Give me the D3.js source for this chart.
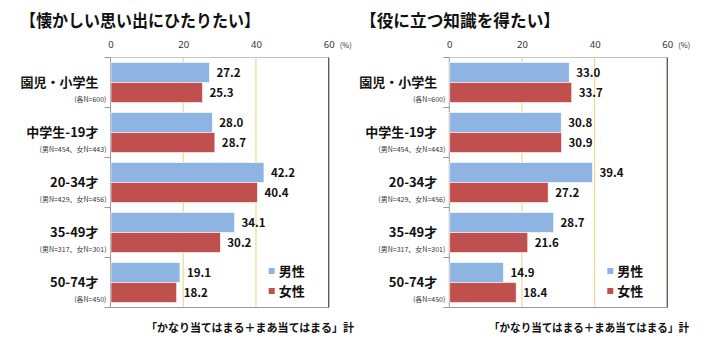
<!DOCTYPE html>
<html>
<head>
<meta charset="utf-8">
<script src="https://cdn.jsdelivr.net/npm/d3@7"></script>
<style>
  body { margin: 0; background: #fff; }
  svg { display: block; font-family: "Noto Sans CJK JP", "Noto Sans", sans-serif; }
</style>
</head>
<body>
<div id="chart"></div>
<script>
// data
const categories = ["園児・小学生", "中学生-19才", "20-34才", "35-49才", "50-74才"];
const sampleNotes = ["(各N=600)", "(男N=454、女N=443)", "(男N=429、女N=456)", "(男N=317、女N=301)", "(各N=450)"];
const genders = ["男性", "女性"];
const xTicks = [0, 20, 40, 60];

const nostalgiaMale = [27.2, 28.0, 42.2, 34.1, 19.1];
const nostalgiaFemale = [25.3, 28.7, 40.4, 30.2, 18.2];
const knowledgeMale = [33.0, 30.8, 39.4, 28.7, 14.9];
const knowledgeFemale = [33.7, 30.9, 27.2, 21.6, 18.4];

const titles = ["【懐かしい思い出にひたりたい】", "【役に立つ知識を得たい】"];
const footer = "「かなり当てはまる＋まあ当てはまる」計";

const colors = { "男性": "#8db4e2", "女性": "#c0504d" };

const width = 710, height = 338;
const top_y = 57.5, bottom_y = 307.5;

const svg = d3.select("#chart").append("svg")
    .attr("width", width)
    .attr("height", height);

function drawPanel(opts) {
    const g = svg.append("g");

    const x = d3.scaleLinear().domain([0, 60]).range([opts.x0, opts.x1]);
    const y = d3.scaleBand().domain(categories).range([top_y, bottom_y]);
    const yg = d3.scaleBand().domain(genders).range([0, y.bandwidth()]).paddingOuter(0.25);

    // title
    g.append("text")
        .attr("x", opts.titleX)
        .attr("y", 27)
        .attr("font-size", 17)
        .attr("font-weight", "bold")
        .attr("fill", "#111")
        .attr("textLength", opts.titleLen)
        .attr("lengthAdjust", "spacingAndGlyphs")
        .text(opts.title);

    // gridlines at 20, 40
    g.selectAll(".grid")
        .data(xTicks.filter(d => d > 0 && d < 60))
        .join("line")
        .attr("x1", d => x(d)).attr("x2", d => x(d))
        .attr("y1", top_y).attr("y2", bottom_y)
        .attr("stroke", "#f3d892")
        .attr("stroke-width", 1.2);

    // frame top + bottom
    g.append("line")
        .attr("x1", x(0)).attr("x2", x(60))
        .attr("y1", top_y).attr("y2", top_y)
        .attr("stroke", "#c4c4c4");
    g.append("line")
        .attr("x1", x(0)).attr("x2", x(60))
        .attr("y1", bottom_y).attr("y2", bottom_y)
        .attr("stroke", "#9a9a9a");
    g.append("line")
        .attr("x1", x(60)).attr("x2", x(60))
        .attr("y1", top_y).attr("y2", bottom_y)
        .attr("stroke", "#5b5340")
        .attr("stroke-width", 1.3);

    // top axis labels
    const xAxis = g.append("g")
        .attr("transform", `translate(0,${top_y})`)
        .call(d3.axisTop(x).tickValues(xTicks).tickSize(0).tickPadding(10));
    xAxis.select(".domain").remove();
    xAxis.selectAll("text")
        .attr("font-family", "\"Noto Sans\", sans-serif")
        .attr("font-size", 9.5)
        .attr("fill", "#333");
    g.append("text")
        .attr("x", x(60) + 11)
        .attr("y", top_y - 10)
        .attr("font-size", 7.5)
        .attr("fill", "#333")
        .text("(%)");

    // left axis with tick marks at category boundaries
    g.append("line")
        .attr("x1", x(0)).attr("x2", x(0))
        .attr("y1", top_y).attr("y2", bottom_y)
        .attr("stroke", "#9a9a9a");
    g.selectAll(".ytick")
        .data(d3.range(categories.length + 1))
        .join("line")
        .attr("x1", x(0) - 6).attr("x2", x(0))
        .attr("y1", i => top_y + i * y.step())
        .attr("y2", i => top_y + i * y.step())
        .attr("stroke", "#9a9a9a");

    // category labels
    g.selectAll(".cat")
        .data(categories)
        .join("text")
        .attr("x", x(0) - 12)
        .attr("y", d => y(d) + y.bandwidth() / 2 + 4.5)
        .attr("text-anchor", "end")
        .attr("font-size", 13)
        .attr("font-weight", "bold")
        .attr("fill", "#111")
        .text(d => d);
    g.selectAll(".note")
        .data(sampleNotes)
        .join("text")
        .attr("x", x(0) - 4)
        .attr("y", (d, i) => y(categories[i]) + y.bandwidth() / 2 + 19.5)
        .attr("text-anchor", "end")
        .attr("font-size", 7)
        .attr("fill", "#333")
        .text(d => d);

    // bars
    const rows = [];
    categories.forEach((c, i) => {
        rows.push({ cat: c, gender: "男性", value: opts.male[i] });
        rows.push({ cat: c, gender: "女性", value: opts.female[i] });
    });

    g.selectAll(".bar")
        .data(rows)
        .join("rect")
        .attr("x", x(0) + 0.5)
        .attr("y", d => y(d.cat) + yg(d.gender))
        .attr("width", d => x(d.value) - x(0) - 0.5)
        .attr("height", yg.bandwidth())
        .attr("fill", d => colors[d.gender])
        .attr("stroke", "#fff")
        .attr("stroke-width", 0.6);

    g.selectAll(".val")
        .data(rows)
        .join("text")
        .attr("x", d => x(d.value) + 7)
        .attr("y", d => y(d.cat) + yg(d.gender) + yg.bandwidth() / 2 + 4)
        .attr("font-size", 11.5)
        .attr("font-weight", "bold")
        .attr("fill", "#111")
        .text(d => d.value.toFixed(1));

    // legend
    const lg = g.selectAll(".legend")
        .data(genders)
        .join("g")
        .attr("transform", (d, i) => `translate(${x(60) - 60},${268 + i * 20})`);
    lg.append("rect")
        .attr("width", 6).attr("height", 6)
        .attr("fill", d => colors[d]);
    lg.append("text")
        .attr("x", 10)
        .attr("y", 8)
        .attr("font-size", 13)
        .attr("font-weight", "bold")
        .attr("fill", "#111")
        .text(d => d);

    // footer
    g.append("text")
        .attr("x", opts.footX)
        .attr("y", 332)
        .attr("font-size", 11.5)
        .attr("font-weight", "bold")
        .attr("fill", "#111")
        .attr("textLength", opts.footLen)
        .attr("lengthAdjust", "spacingAndGlyphs")
        .text(footer);
}

drawPanel({
    x0: 110.5, x1: 328.7,
    title: titles[0], titleX: 20, titleLen: 240,
    male: nostalgiaMale, female: nostalgiaFemale,
    footX: 146, footLen: 208
});

drawPanel({
    x0: 449.3, x1: 667.3,
    title: titles[1], titleX: 360, titleLen: 200,
    male: knowledgeMale, female: knowledgeFemale,
    footX: 489, footLen: 200
});
</script>
</body>
</html>
